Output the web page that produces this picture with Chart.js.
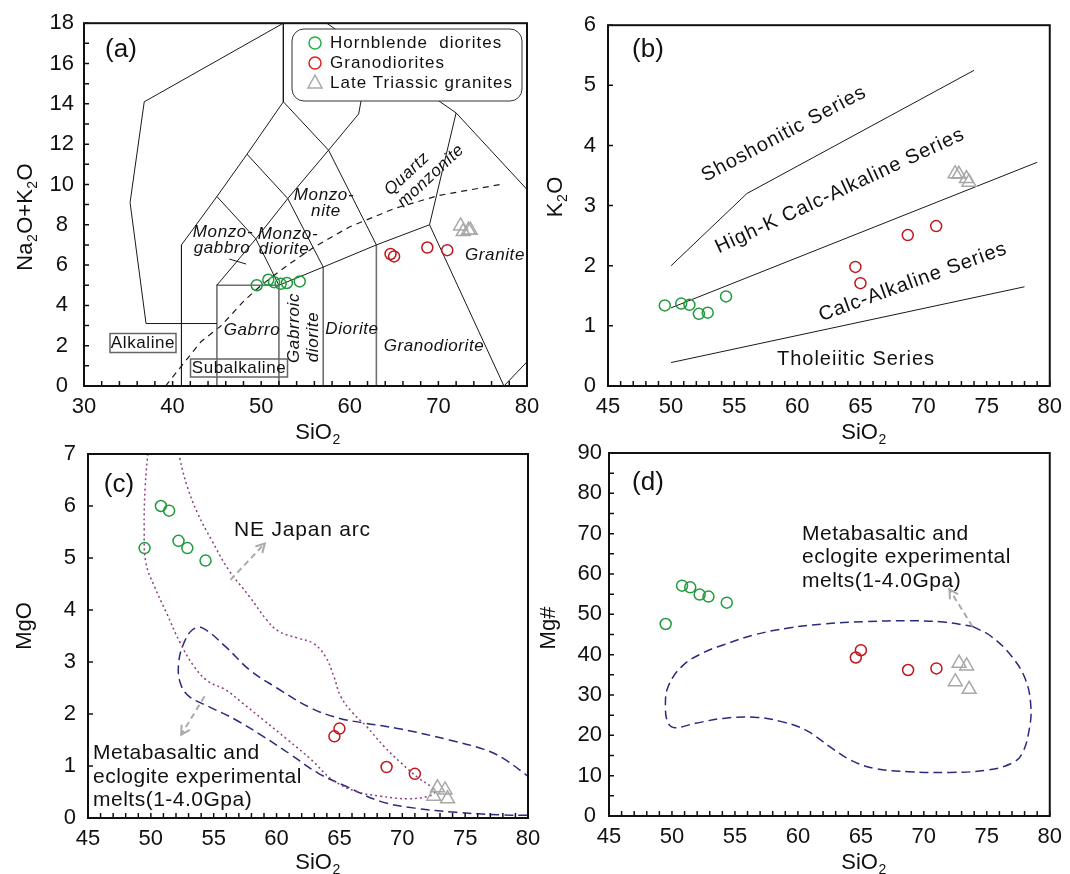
<!DOCTYPE html>
<html>
<head>
<meta charset="utf-8">
<title>Geochemical diagrams</title>
<script src="https://cdn.jsdelivr.net/npm/chart.js@4.4.1/dist/chart.umd.min.js"></script>
<style>
  body { margin: 0; background: #fff; }
  .wrap { position: relative; width: 1070px; height: 874px; }
  .wrap canvas { position: absolute; left: 0; top: 0; }
</style>
</head>
<body>
<div class="wrap">
  <canvas id="tas" width="1070" height="874"></canvas>
  <canvas id="k2o" width="1070" height="874"></canvas>
  <canvas id="mgo" width="1070" height="874"></canvas>
  <canvas id="mgno" width="1070" height="874"></canvas>
</div>
<script>
// ---- sample data ----
const hbdSiO2 = [49.5, 50.8, 51.45, 52.2, 52.9, 54.35];
const hbdAlk  = [5.0, 5.27, 5.15, 5.07, 5.11, 5.19];
const hbdK2O  = [1.34, 1.37, 1.35, 1.20, 1.22, 1.49];
const hbdMgO  = [5.19, 6.00, 5.91, 5.33, 5.19, 4.95];
const hbdMgNo = [47.6, 57.1, 56.7, 54.9, 54.4, 52.9];

const grdSiO2 = [64.6, 65.0, 68.75, 71.0];
const grdAlk  = [6.55, 6.43, 6.87, 6.74];
const grdK2O  = [1.98, 1.71, 2.51, 2.66];
const grdMgO  = [1.57, 1.72, 0.98, 0.85];
const grdMgNo = [39.3, 41.1, 36.2, 36.6];

const ltgSiO2 = [72.5, 72.8, 73.4, 73.6];
const ltgAlk  = [7.94, 7.66, 7.73, 7.73];
const ltgK2O  = [3.53, 3.52, 3.45, 3.39];
const ltgMgO  = [0.42, 0.58, 0.54, 0.37];
const ltgMgNo = [33.3, 37.9, 37.2, 31.4];

// ---- TAS field boundaries ----
const tasLines = [
  [[36.8, 14.1], [52.5, 18]],
  [[36.8, 14.1], [35.2, 9.1], [37.0, 3.1], [45.0, 3.1]],
  [[52.5, 18], [52.5, 14.1]],
  [[52.5, 14.1], [48.4, 11.5], [45.0, 9.4], [41.0, 7.0], [41.0, 0]],
  [[52.5, 14.1], [57.6, 11.7], [63.0, 7.0]],
  [[45, 5], [49.4, 7.3], [53, 9.3], [57.6, 11.7], [61, 13.5], [62.3, 16.6]],
  [[48.4, 11.5], [53, 9.3], [57, 5.9]],
  [[45, 9.4], [49.4, 7.3], [52, 5]],
  [[57.4, 18], [72, 13.55], [80, 9.75]],
  [[72, 13.55], [69, 8], [77.4, 0], [80, 1.2]],
  [[52, 5], [57, 5.9], [63, 7], [69, 8]],
  [[46.4, 6.3], [48.3, 6.05]]
];
const tasGreyLines = [
  [[45, 0], [45, 5], [52, 5], [52, 0]],
  [[57, 0], [57, 5.9]],
  [[63, 0], [63, 7]]
];
const alkSubalkLine = [[39.2, 0], [43.2, 2.2], [45.5, 3.0], [48, 4.2], [50, 5.0], [53, 6.0],
  [56, 6.9], [60, 7.9], [65, 8.8], [70, 9.45], [77, 10.0]];

// ---- K2O series boundaries ----
const shoLine   = [[50, 2.0], [56, 3.2], [74, 5.25]];
const highKLine = [[50, 1.3], [79, 3.72]];
const thLine    = [[50, 0.39], [78, 1.65]];

// ---- MgO / Mg# fields ----
const arcField = [[49.83, 7.2], [49.55, 6.37], [49.47, 5.54], [49.61, 4.90], [50.29, 4.45], [51.25, 3.94],
  [52.35, 3.36], [53.45, 2.91], [54.54, 2.63], [55.92, 2.47], [57.29, 2.21], [58.93, 1.89], [60.85, 1.51],
  [62.77, 1.12], [64.42, 0.74], [66.34, 0.51], [68.26, 0.42], [70.45, 0.37], [72.1, 0.42], [72.6, 0.5],
  [72.3, 0.6], [71.28, 0.77], [69.90, 1.06], [68.53, 1.38], [67.16, 1.76], [66.06, 2.02], [65.10, 2.34],
  [64.56, 2.72], [63.87, 3.11], [62.91, 3.36], [61.68, 3.46], [60.17, 3.59], [59.21, 3.81], [57.84, 4.26],
  [56.19, 4.77], [54.82, 5.35], [53.72, 5.86], [52.90, 6.37], [52.30, 6.92], [52.15, 7.2]];
const meltFieldMgO = [[80.3, 0.75], [78, 1.15], [76.49, 1.32], [73.74, 1.5], [69.9, 1.71], [66.89, 1.83],
  [64.97, 1.92], [62.77, 2.11], [60.03, 2.50], [57.84, 2.85], [55.92, 3.3], [54.13, 3.65], [53.31, 3.62],
  [52.62, 3.36], [52.21, 2.98], [52.35, 2.59], [53.04, 2.34], [54.54, 2.15], [56.74, 1.89], [58.93, 1.57],
  [61.13, 1.22], [63.32, 0.86], [65.52, 0.61], [68.26, 0.32], [71.0, 0.19], [74.29, 0.11], [77.86, 0.06],
  [80.5, 0.05]];
const meltFieldMgNo = [[73.86, 47.0], [75.36, 44.5], [77.0, 39.5], [78.09, 33.7], [78.5, 27.1], [78.36, 21.3],
  [77.81, 15.5], [77.0, 13.1], [75.08, 11.4], [72.08, 10.8], [68.81, 11.0], [66.08, 11.8], [64.16, 13.9],
  [62.53, 17.2], [60.62, 21.3], [58.7, 23.4], [56.52, 24.5], [54.06, 24.2], [51.88, 23.0], [50.24, 21.9],
  [49.7, 23.0], [49.48, 27.1], [49.7, 32.1], [50.79, 37.1], [52.43, 40.4], [54.06, 42.4], [56.52, 44.9],
  [59.25, 46.6], [61.98, 47.6], [65.26, 48.2], [68.81, 48.4], [71.54, 48.1], [73.86, 47.0]];

const arcArrow   = [[56.33, 4.58], [59.07, 5.28]];
const meltArrowC = [[54.27, 2.34], [52.41, 1.60]];
const meltArrowD = [[73.86, 47.0], [72.03, 56.2]];

// ---- styling ----
const FONT = "'Liberation Sans', Arial, sans-serif";
const GREEN = '#1f9a3c';
const RED = '#c0161e';
const GREY = '#a8a8a8';
const NAVY = '#2a2a7e';

const SIO2 = [{ t: 'SiO' }, { t: '2', sub: true }];

function pts(xs, ys) { return xs.map((x, i) => ({ x, y: ys[i] })); }
function path(arr) { return arr.map(p => ({ x: p[0], y: p[1] })); }

function sampleSets(alk, k, tri) {
  return [
    { data: pts(hbdSiO2, alk), pointStyle: 'circle', pointRadius: 5.5, borderColor: GREEN,
      backgroundColor: 'rgba(0,0,0,0)', borderWidth: 1.5, pointBorderWidth: 1.5 },
    { data: pts(grdSiO2, k), pointStyle: 'circle', pointRadius: 5.5, borderColor: RED,
      backgroundColor: 'rgba(0,0,0,0)', borderWidth: 1.5, pointBorderWidth: 1.5 },
    { data: pts(ltgSiO2, tri), pointStyle: 'triangle', pointRadius: 8, borderColor: GREY,
      backgroundColor: 'rgba(0,0,0,0)', borderWidth: 1.5, pointBorderWidth: 1.5 }
  ];
}

function lineSet(arr, style) {
  return Object.assign({
    data: path(arr), showLine: true, pointRadius: 0, borderColor: '#1a1a1a',
    borderWidth: 1, fill: false, tension: 0
  }, style || {});
}

function baseOptions(p, xr, yr) {
  const tickFont = { family: FONT, size: 22 };
  return {
    responsive: false,
    animation: false,
    events: [],
    layout: { padding: { left: p.L - 80, top: p.T, right: 1070 - p.R, bottom: 874 - p.B - 60 } },
    plugins: { legend: { display: false }, tooltip: { enabled: false } },
    scales: {
      x: {
        type: 'linear', min: xr[0], max: xr[1],
        grid: { display: false, drawTicks: false }, border: { display: false },
        ticks: { stepSize: xr[2], font: tickFont, color: '#111', padding: 8, maxRotation: 0, autoSkip: false },
        afterFit: s => { s.height = 60; }
      },
      y: {
        type: 'linear', min: yr[0], max: yr[1],
        grid: { display: false, drawTicks: false }, border: { display: false },
        ticks: { stepSize: yr[2], font: tickFont, color: '#111', padding: p.yPad, crossAlign: 'center', autoSkip: false },
        afterFit: s => { s.width = 80; }
      }
    }
  };
}

function drawText(ctx, t) {
  ctx.save();
  ctx.translate(t.x, t.y);
  if (t.rot) ctx.rotate(t.rot * Math.PI / 180);
  ctx.font = (t.italic ? 'italic ' : '') + (t.size || 17) + 'px ' + FONT;
  ctx.letterSpacing = (t.ls === undefined ? 0.6 : t.ls) + 'px';
  ctx.textAlign = t.align || 'center';
  ctx.textBaseline = 'middle';
  ctx.fillStyle = '#111';
  ctx.fillText(t.text, 0, 0);
  if (t.box) {
    ctx.strokeStyle = '#666';
    ctx.lineWidth = 1.5;
    ctx.strokeRect(-t.box[0] / 2, -t.box[1] / 2, t.box[0], t.box[1]);
  }
  ctx.restore();
}

// axis title with real subscripts; (x, y) = centre of the baseline
function drawTitle(ctx, parts, x, y, rot) {
  const size = 22;
  const big = size + 'px ' + FONT, small = '14px ' + FONT;
  ctx.save();
  ctx.translate(x, y);
  if (rot) ctx.rotate(rot * Math.PI / 180);
  ctx.fillStyle = '#111';
  ctx.textAlign = 'left';
  ctx.textBaseline = 'alphabetic';
  let w = 0;
  parts.forEach(p => { ctx.font = p.sub ? small : big; w += ctx.measureText(p.t).width + (p.sub ? 1 : 0); });
  let cx = -w / 2;
  parts.forEach(p => {
    ctx.font = p.sub ? small : big;
    ctx.fillText(p.t, cx + (p.sub ? 0.5 : 0), p.sub ? 5 : 0);
    cx += ctx.measureText(p.t).width + (p.sub ? 1 : 0);
  });
  ctx.restore();
}

function drawArrow(ctx, sx, sy, ar) {
  const x1 = sx.getPixelForValue(ar[0][0]), y1 = sy.getPixelForValue(ar[0][1]);
  const x2 = sx.getPixelForValue(ar[1][0]), y2 = sy.getPixelForValue(ar[1][1]);
  const ang = Math.atan2(y2 - y1, x2 - x1);
  ctx.save();
  ctx.strokeStyle = '#aaa';
  ctx.lineWidth = 2;
  ctx.setLineDash([6, 4]);
  ctx.beginPath(); ctx.moveTo(x1, y1); ctx.lineTo(x2, y2); ctx.stroke();
  ctx.setLineDash([]);
  ctx.beginPath();
  ctx.moveTo(x2 - 10 * Math.cos(ang - 0.5), y2 - 10 * Math.sin(ang - 0.5));
  ctx.lineTo(x2, y2);
  ctx.lineTo(x2 - 10 * Math.cos(ang + 0.5), y2 - 10 * Math.sin(ang + 0.5));
  ctx.stroke();
  ctx.restore();
}

function drawLegend(ctx) {
  const x = 292, y = 29, w = 230, h = 72, r = 12;
  ctx.save();
  ctx.beginPath();
  ctx.moveTo(x + r, y);
  ctx.arcTo(x + w, y, x + w, y + h, r);
  ctx.arcTo(x + w, y + h, x, y + h, r);
  ctx.arcTo(x, y + h, x, y, r);
  ctx.arcTo(x, y, x + w, y, r);
  ctx.closePath();
  ctx.fillStyle = '#fff';
  ctx.fill();
  ctx.strokeStyle = '#333';
  ctx.lineWidth = 1;
  ctx.stroke();
  ctx.lineWidth = 1.5;
  ctx.strokeStyle = '#1db34a';
  ctx.beginPath(); ctx.arc(315, 43, 6, 0, Math.PI * 2); ctx.stroke();
  ctx.strokeStyle = '#e0201f';
  ctx.beginPath(); ctx.arc(315, 63, 6, 0, Math.PI * 2); ctx.stroke();
  ctx.strokeStyle = GREY;
  ctx.beginPath(); ctx.moveTo(315, 75); ctx.lineTo(322, 88); ctx.lineTo(308, 88); ctx.closePath(); ctx.stroke();
  ctx.restore();
  drawText(ctx, { text: 'Hornblende  diorites', x: 330, y: 43, align: 'left', size: 17, ls: 1 });
  drawText(ctx, { text: 'Granodiorites', x: 330, y: 63, align: 'left', size: 17, ls: 1 });
  drawText(ctx, { text: 'Late Triassic granites', x: 330, y: 83, align: 'left', size: 17, ls: 1 });
}

function makeDeco(cfg) {
  return {
    id: 'deco',
    afterDraw(chart) {
      const ctx = chart.ctx;
      const a = chart.chartArea;
      const sx = chart.scales.x, sy = chart.scales.y;
      (cfg.arrows || []).forEach(ar => drawArrow(ctx, sx, sy, ar));
      ctx.save();
      ctx.strokeStyle = '#111';
      ctx.lineWidth = 1.5;
      ctx.beginPath();
      for (let v = sx.min; v <= sx.max + 1e-9; v += cfg.minorX) {
        const px = sx.getPixelForValue(v);
        ctx.moveTo(px, a.bottom); ctx.lineTo(px, a.bottom - 5);
      }
      for (let v = sy.min; v <= sy.max + 1e-9; v += cfg.minorY) {
        const py = sy.getPixelForValue(v);
        ctx.moveTo(a.left, py); ctx.lineTo(a.left + 5, py);
      }
      ctx.stroke();
      ctx.lineWidth = 2;
      ctx.strokeRect(a.left, a.top, a.right - a.left, a.bottom - a.top);
      ctx.restore();
      drawTitle(ctx, SIO2, cfg.xTitle[0], cfg.xTitle[1], 0);
      drawTitle(ctx, cfg.yTitle.parts, cfg.yTitle.x, cfg.yTitle.y, -90);
      (cfg.texts || []).forEach(t => drawText(ctx, t));
      if (cfg.legend) drawLegend(ctx);
    }
  };
}

// ---- (a) TAS ----
const panelA = { L: 84, T: 21, R: 527, B: 386, yPad: 10 };
new Chart(document.getElementById('tas'), {
  type: 'scatter',
  data: {
    datasets: sampleSets(hbdAlk, grdAlk, ltgAlk)
      .concat(tasLines.map(l => lineSet(l)))
      .concat(tasGreyLines.map(l => lineSet(l, { borderColor: '#6f6f6f', borderWidth: 1.6 })))
      .concat([lineSet(alkSubalkLine, { borderDash: [6, 5], borderWidth: 1.2 })])
  },
  options: baseOptions(panelA, [30, 80, 10], [0, 18, 2]),
  plugins: [makeDeco({
    minorX: 2, minorY: 1, legend: true,
    xTitle: [318, 439],
    yTitle: { parts: [{ t: 'Na' }, { t: '2', sub: true }, { t: 'O+K' }, { t: '2', sub: true }, { t: 'O' }], x: 32, y: 217 },
    texts: [
      { text: '(a)', x: 121, y: 50, size: 26, ls: 0 },
      { text: 'Monzo-', x: 324, y: 195, italic: true },
      { text: 'nite', x: 326, y: 211, italic: true },
      { text: 'Quartz', x: 407, y: 174, italic: true, rot: -43 },
      { text: 'monzonite', x: 431, y: 176, italic: true, rot: -43 },
      { text: 'Monzo-', x: 223, y: 232, italic: true },
      { text: 'gabbro', x: 222, y: 248, italic: true },
      { text: 'Monzo-', x: 288, y: 234, italic: true },
      { text: 'diorite', x: 284, y: 249, italic: true },
      { text: 'Gabrro', x: 252, y: 330, italic: true },
      { text: 'Gabrroic', x: 294, y: 328, italic: true, rot: -90 },
      { text: 'diorite', x: 313, y: 337, italic: true, rot: -90 },
      { text: 'Diorite', x: 352, y: 329, italic: true },
      { text: 'Granodiorite', x: 434, y: 346, italic: true },
      { text: 'Granite', x: 495, y: 255, italic: true },
      { text: 'Alkaline', x: 143, y: 343, box: [66, 19] },
      { text: 'Subalkaline', x: 239, y: 368, box: [97, 18] }
    ]
  })]
});

// ---- (b) K2O ----
const panelB = { L: 608, T: 21, R: 1050, B: 386, yPad: 12 };
new Chart(document.getElementById('k2o'), {
  type: 'scatter',
  data: {
    datasets: sampleSets(hbdK2O, grdK2O, ltgK2O)
      .concat([lineSet(shoLine), lineSet(highKLine), lineSet(thLine)])
  },
  options: baseOptions(panelB, [45, 80, 5], [0, 6, 1]),
  plugins: [makeDeco({
    minorX: 1, minorY: 1,
    xTitle: [864, 439],
    yTitle: { parts: [{ t: 'K' }, { t: '2', sub: true }, { t: 'O' }], x: 562, y: 197 },
    texts: [
      { text: '(b)', x: 648, y: 50, size: 26, ls: 0 },
      { text: 'Shoshonitic Series', x: 784, y: 134, size: 20, rot: -28, ls: 1 },
      { text: 'High-K Calc-Alkaline Series', x: 840, y: 191, size: 20, rot: -25, ls: 1 },
      { text: 'Calc-Alkaline Series', x: 913, y: 282, size: 20, rot: -20, ls: 1 },
      { text: 'Tholeiitic Series', x: 856, y: 359, size: 20, ls: 1 }
    ]
  })]
});

// ---- (c) MgO ----
const panelC = { L: 88, T: 454, R: 528, B: 818, yPad: 12 };
new Chart(document.getElementById('mgo'), {
  type: 'scatter',
  data: {
    datasets: sampleSets(hbdMgO, grdMgO, ltgMgO)
      .concat([
        lineSet(arcField, { borderColor: '#8e3d7f', borderDash: [2, 3], borderWidth: 1.5, tension: 0.4 }),
        lineSet(meltFieldMgO, { borderColor: NAVY, borderDash: [9, 5], borderWidth: 1.5, tension: 0.4 })
      ])
  },
  options: baseOptions(panelC, [45, 80, 5], [0, 7, 1]),
  plugins: [makeDeco({
    minorX: 1, minorY: 1,
    xTitle: [318, 869],
    yTitle: { parts: [{ t: 'MgO' }], x: 31, y: 626 },
    arrows: [arcArrow, meltArrowC],
    texts: [
      { text: '(c)', x: 119, y: 485, size: 26, ls: 0 },
      { text: 'NE Japan arc', x: 234, y: 530, size: 21, align: 'left', ls: 0.8 },
      { text: 'Metabasaltic and', x: 93, y: 753, size: 21, align: 'left', ls: 0.5 },
      { text: 'eclogite experimental', x: 93, y: 777, size: 21, align: 'left', ls: 0.5 },
      { text: 'melts(1-4.0Gpa)', x: 93, y: 800, size: 21, align: 'left', ls: 0.5 }
    ]
  })]
});

// ---- (d) Mg# ----
const panelD = { L: 609, T: 453, R: 1052, B: 816, yPad: 7 };
new Chart(document.getElementById('mgno'), {
  type: 'scatter',
  data: {
    datasets: sampleSets(hbdMgNo, grdMgNo, ltgMgNo)
      .concat([lineSet(meltFieldMgNo, { borderColor: NAVY, borderDash: [9, 5], borderWidth: 1.5, tension: 0.4 })])
  },
  options: baseOptions(panelD, [45, 80, 5], [0, 90, 10]),
  plugins: [makeDeco({
    minorX: 1, minorY: 5,
    xTitle: [864, 869],
    yTitle: { parts: [{ t: 'Mg#' }], x: 555, y: 628 },
    arrows: [meltArrowD],
    texts: [
      { text: '(d)', x: 648, y: 483, size: 26, ls: 0 },
      { text: 'Metabasaltic and', x: 802, y: 534, size: 21, align: 'left', ls: 0.5 },
      { text: 'eclogite experimental', x: 802, y: 557, size: 21, align: 'left', ls: 0.5 },
      { text: 'melts(1-4.0Gpa)', x: 802, y: 581, size: 21, align: 'left', ls: 0.5 }
    ]
  })]
});
</script>
</body>
</html>
